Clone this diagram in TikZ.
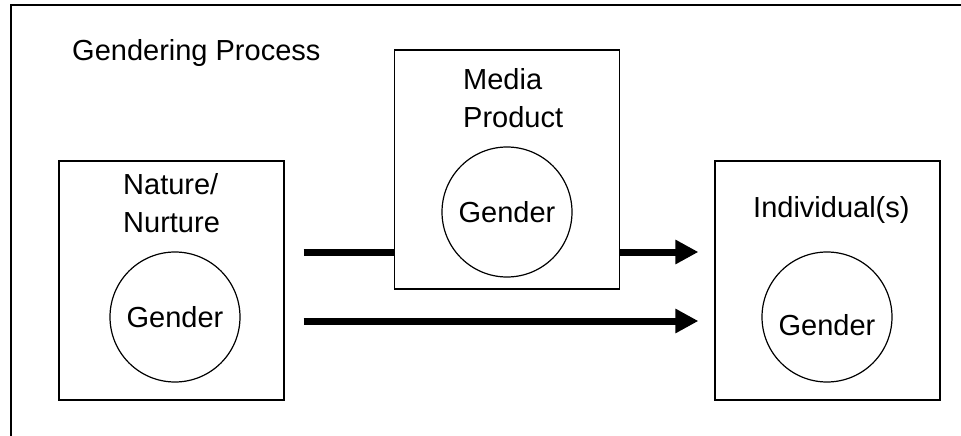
\documentclass[tikz,border=0pt]{standalone}
\usepackage{fontspec}
\setmainfont{Liberation Sans}
\usetikzlibrary{arrows.meta}
\tikzset{
	box/.style={draw, line width=1.2pt, fill=white, minimum width=225pt, minimum height=239pt, inner sep=0pt},
	ring/.style={draw, circle, line width=1.2pt, minimum size=130pt, inner sep=0pt},
	lbl/.style={anchor=base west, align=left, inner sep=0pt},
	fatarrow/.style={line width=7pt, -{Triangle[length=23pt,width=23pt]}}
}
\begin{document}
\begin{tikzpicture}[x=1pt, y=1pt, font=\fontsize{29}{38}\selectfont]
		\useasboundingbox (0,0) rectangle (961,-436);
		\draw [line width=1.3pt] (11,-436) -- (11,-5) -- (961,-5);
		\node [lbl] (title) at (72,-61) {Gendering Process};
		% left and right boxes
		\node [box] (nat) at (171.5,-280.5) {};
		\node [ring] (natg) at (175,-317) {Gender};
		\node [lbl] (natl) at (123,-232) {Nature/\\Nurture};
		\node [box] (ind) at (827.5,-280.5) {};
		\node [ring] (indg) at (827,-317) {};
		\node (indt) at ([yshift=-8pt]indg.center) {Gender};
		\node [lbl] (indl) at (753,-217) {Individual(s)};
		% arrows, the upper one runs under the media box
		\draw [fatarrow, shorten <=19pt, shorten >=16pt] ([yshift=28.5pt]nat.east) -- ([yshift=28.5pt]ind.west);
		\draw [fatarrow, shorten <=19pt, shorten >=16pt] ([yshift=-40.5pt]nat.east) -- ([yshift=-40.5pt]ind.west);
		\node [box] (med) at (507,-169.5) {};
		\node [ring] (medg) at (507,-212) {Gender};
		\node [lbl] (medl) at (463,-127) {Media\\Product};
	\end{tikzpicture}
\end{document}
